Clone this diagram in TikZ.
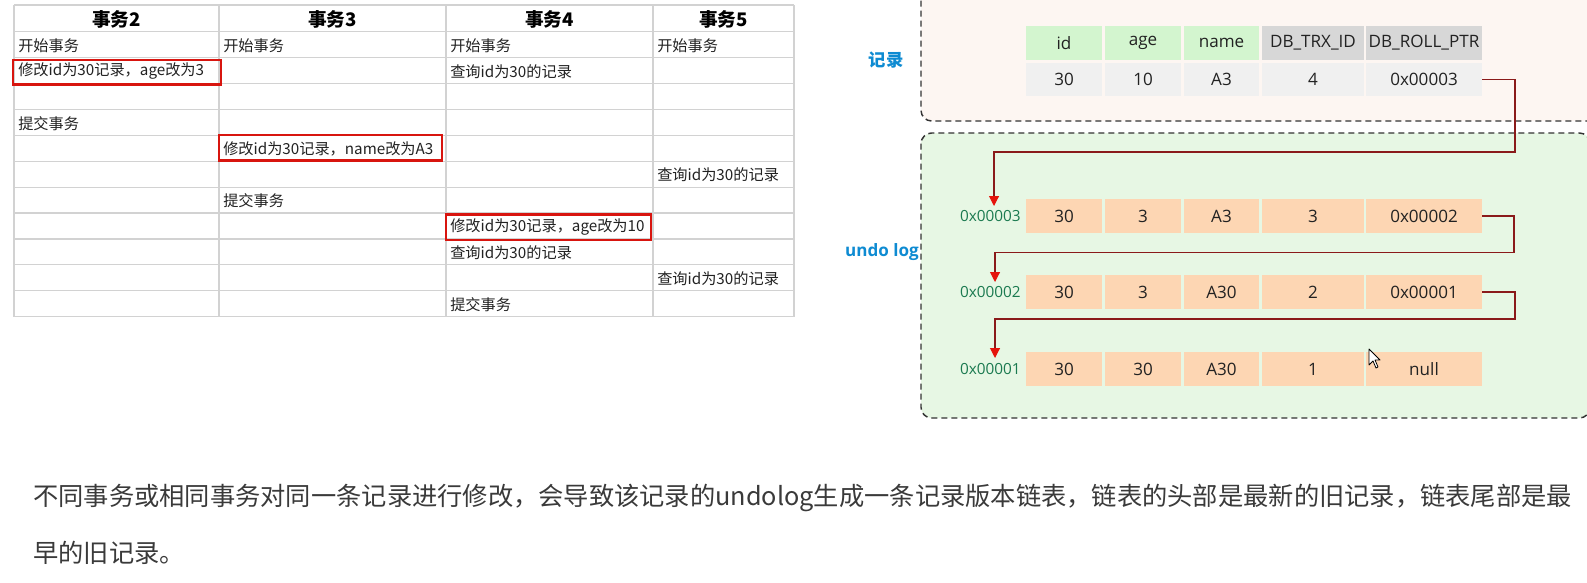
\documentclass[tikz,border=0pt]{standalone}
\usepackage{fontspec}
\setmainfont{Noto Sans CJK SC}
\newfontfamily\lat{Open Sans}
\usetikzlibrary{arrows.meta}
\definecolor{gridc}{HTML}{D2D2D2}
\definecolor{txt}{HTML}{222222}
\definecolor{boxred}{HTML}{D8150F}
\definecolor{dashc}{HTML}{333333}
\definecolor{recfill}{HTML}{FDF6F2}
\definecolor{undofill}{HTML}{E7F7E4}
\definecolor{hdgreen}{HTML}{D3F5CF}
\definecolor{hdgray}{HTML}{D7D7D7}
\definecolor{rowgray}{HTML}{F0F0F0}
\definecolor{peach}{HTML}{FDD6B3}
\definecolor{addrgreen}{HTML}{1B7A50}
\definecolor{lblblue}{HTML}{0E8BD2}
\definecolor{ptrc}{HTML}{8A1A1A}
\definecolor{arrred}{HTML}{E5140C}
\definecolor{bodytxt}{HTML}{3A3A3A}
\tikzset{
  gridline/.style={draw=gridc, line width=0.9pt},
  hd/.style={font=\bfseries\fontsize{14pt}{15pt}\selectfont, text=black, inner sep=0},
  td/.style={font=\fontsize{11.4pt}{12pt}\selectfont, text=txt, anchor=west, inner sep=0},
  redbox/.style={draw=boxred, line width=1.6pt},
  dbox/.style={draw=dashc, line width=1.1pt, dash pattern=on 4.5pt off 3pt, rounded corners=8pt},
  cell/.style={inner sep=0, minimum height=25pt, font=\lat\fontsize{12.8pt}{13pt}\selectfont, text=txt},
  addr/.style={inner sep=0, anchor=east, font=\lat\fontsize{11.5pt}{12pt}\selectfont, text=addrgreen},
  lbl/.style={inner sep=0, font=\bfseries\fontsize{13pt}{14pt}\selectfont, text=lblblue},
  ptr/.style={draw=ptrc, line width=0.8pt, -{Triangle[width=7.5pt,length=7.5pt,color=arrred]}},
  body/.style={inner sep=0, anchor=west, font=\fontsize{18.95pt}{20pt}\selectfont, text=bodytxt}
}
\begin{document}
\begin{tikzpicture}[x=0.75pt,y=-0.75pt]
\useasboundingbox (0,0) rectangle (1587,582);
\clip (0,0) rectangle (1587,582);
\fill[white] (0,0) rectangle (1587,582);

% ---------- table ----------
\foreach \y in {5,31.7,57.6,83.5,109.4,135.3,161.2,187.1,213.0,238.9,264.8,290.7,316.6}
  \draw[gridline] (14,\y) -- (794,\y);
\foreach \x in {14,219,446,653,794}
  \draw[gridline] (\x,5) -- (\x,316.6);

\node[hd] (h2) at (116.5,19) {事务2};
\node[hd] (h3) at (332.5,19) {事务3};
\node[hd] (h4) at (549.5,19) {事务4};
\node[hd] (h5) at (723.5,19) {事务5};

\node[td] (s2) at (18,45.6) {开始事务};
\node[td] (s3) at (223,45.6) {开始事务};
\node[td] (s4) at (450,45.6) {开始事务};
\node[td] (s5) at (657,45.6) {开始事务};
\node[td] (m2) at (18,71.5) {修改id为30记录，age改为3};
\node[td] (q4a) at (450,71.5) {查询id为30的记录};
\node[td] (c2) at (18,123.3) {提交事务};
\node[td] (m3) at (223,149.2) {修改id为30记录，name改为A3};
\node[td] (q5a) at (657,175.1) {查询id为30的记录};
\node[td] (c3) at (223,201.0) {提交事务};
\node[td] (m4) at (450,226.9) {修改id为30记录，age改为10};
\node[td] (q4b) at (450,252.8) {查询id为30的记录};
\node[td] (q5b) at (657,278.7) {查询id为30的记录};
\node[td] (c4) at (450,304.6) {提交事务};

\draw[redbox] (13,60) rectangle (221,84.5);
\draw[redbox] (219,135) rectangle (442,160.5);
\draw[redbox] (446,214.5) rectangle (651,240);

% ---------- right side boxes ----------
\draw[dbox, fill=recfill] (921,-30) rectangle (1640,121);
\draw[dbox, fill=undofill] (921,133) rectangle (1590,418);

\node[lbl] (lrec) at (886,60) {记录};
\node[lbl, anchor=east, font=\lat\bfseries\fontsize{12.8pt}{14pt}\selectfont] (lundo) at (919,252) {undo log};

% record header
\node[cell, fill=hdgreen, minimum width=57pt, minimum height=25.5pt] (rh1) at (1064,43) {id};
\node[cell, fill=hdgreen, minimum width=57pt, minimum height=25.5pt] (rh2) at (1143,43) {age};
\node[cell, fill=hdgreen, minimum width=56.2pt, minimum height=25.5pt] (rh3) at (1221.5,43) {name};
\node[cell, fill=hdgray, minimum width=76.5pt, minimum height=25.5pt] (rh4) at (1313,43) {DB\_TRX\_ID};
\node[cell, fill=hdgray, minimum width=87pt, minimum height=25.5pt] (rh5) at (1424,43) {DB\_ROLL\_PTR};
% record data
\node[cell, fill=rowgray, minimum width=57pt, minimum height=24.3pt] (rd1) at (1064,79.5) {30};
\node[cell, fill=rowgray, minimum width=57pt, minimum height=24.3pt] (rd2) at (1143,79.5) {10};
\node[cell, fill=rowgray, minimum width=56.2pt, minimum height=24.3pt] (rd3) at (1221.5,79.5) {A3};
\node[cell, fill=rowgray, minimum width=76.5pt, minimum height=24.3pt] (rd4) at (1313,79.5) {4};
\node[cell, fill=rowgray, minimum width=87pt, minimum height=24.3pt] (rd5) at (1424,79.5) {0x00003};

% undo log rows
\foreach \r/\y/\a/\b/\c/\d/\e/\ad in {1/216/30/3/A3/3/0x00002/0x00003,
                                      2/292/30/3/A30/2/0x00001/0x00002,
                                      3/369/30/30/A30/1/null/0x00001}{
  \node[cell, fill=peach, minimum width=57pt] (u\r c1) at (1064,\y) {\a};
  \node[cell, fill=peach, minimum width=57pt] (u\r c2) at (1143,\y) {\b};
  \node[cell, fill=peach, minimum width=56.2pt] (u\r c3) at (1221.5,\y) {\c};
  \node[cell, fill=peach, minimum width=76.5pt] (u\r c4) at (1313,\y) {\d};
  \node[cell, fill=peach, minimum width=87pt] (u\r c5) at (1424,\y) {\e};
  \node[addr] (ad\r) at (1021,\y) {\ad};
}

% pointers
\coordinate (b0) at (1515,152);
\coordinate (t1) at (994,206);
\coordinate (b1) at (1514,252.5);
\coordinate (t2) at (995,282);
\coordinate (b2) at (1515,319);
\coordinate (t3) at (995,358);
\draw[ptr] (rd5.east) -| (b0) -| (t1);
\draw[ptr] (u1c5.east) -| (b1) -| (t2);
\draw[ptr] (u2c5.east) -| (b2) -| (t3);

% mouse cursor
\draw[fill=white, line width=0.6pt, line join=round]
  (1369,349) -- ++(0,16) -- ++(4,-4) -- ++(3,7) -- ++(2,-1) -- ++(-3,-7) -- ++(5,0) -- cycle;

% ---------- bottom text ----------
\node[body] (t1txt) at (33,498) {不同事务或相同事务对同一条记录进行修改，会导致该记录的undolog生成一条记录版本链表，链表的头部是最新的旧记录，链表尾部是最};
\node[body] (t2txt) at (33,553) {早的旧记录。};
\end{tikzpicture}
\end{document}
